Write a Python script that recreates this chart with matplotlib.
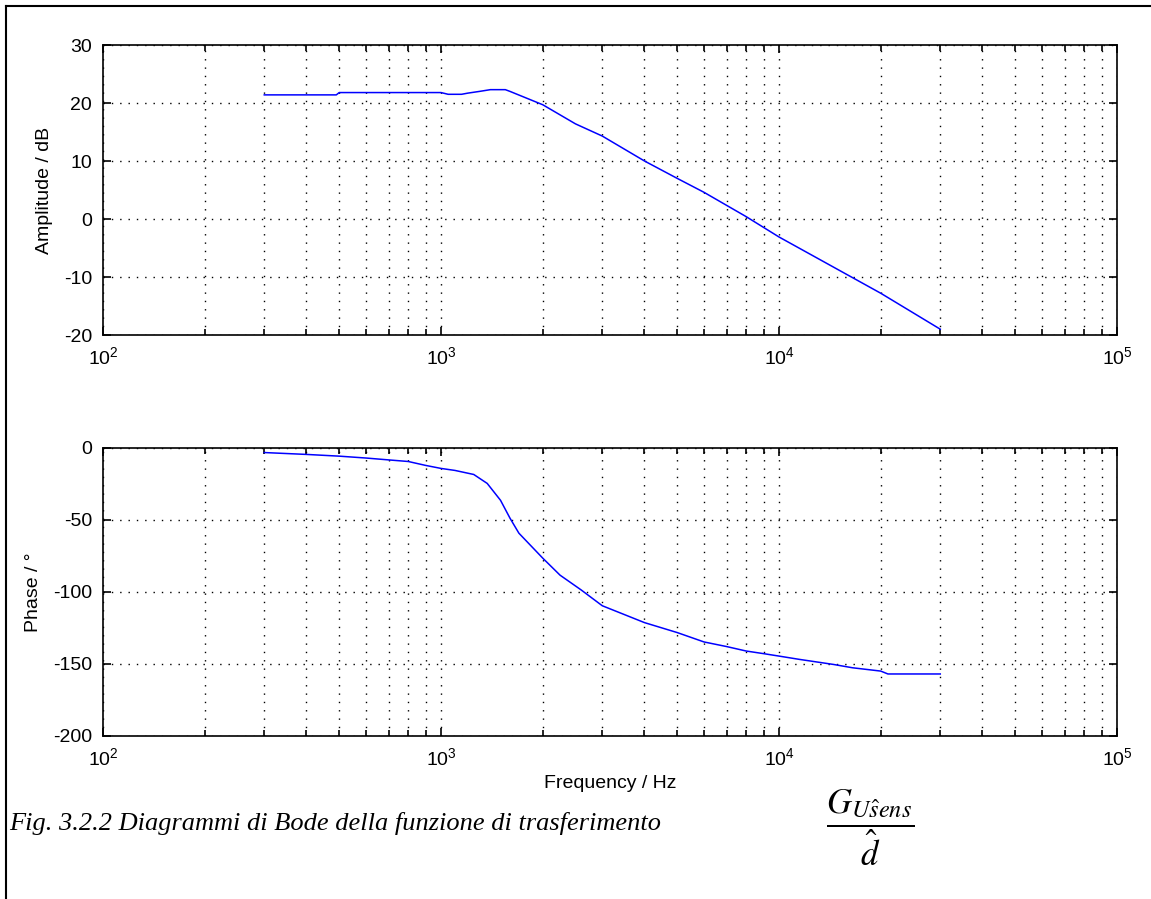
import matplotlib
matplotlib.use('Agg')
import matplotlib.pyplot as plt
from matplotlib.lines import Line2D
from matplotlib.ticker import LogLocator, NullFormatter

plt.rcParams['font.family'] = ['Liberation Sans', 'DejaVu Sans']
plt.rcParams['axes.unicode_minus'] = False
plt.rcParams['mathtext.fontset'] = 'custom'
plt.rcParams['mathtext.rm'] = 'Liberation Sans'

# amplitude data
freq_amp = [300, 400, 490, 500, 1000, 1050, 1150, 1200, 1300, 1400, 1550, 1600,
            2000, 2500, 3000, 4000, 5000, 6000, 8000, 10000, 20000, 30000]
amp_db = [21.4, 21.4, 21.4, 21.8, 21.8, 21.5, 21.5, 21.7, 22.0, 22.3, 22.3, 22.0,
          19.7, 16.4, 14.3, 10.0, 7.0, 4.6, 0.4, -3.1, -12.8, -19.0]

# phase data
freq_ph = [300, 400, 500, 600, 700, 800, 900, 1000, 1100, 1250, 1370, 1500, 1600,
           1700, 2000, 2250, 2600, 3000, 4000, 5000, 6000, 7000, 8000, 9000,
           10000, 11500, 14500, 16500, 20000, 21000, 30000]
phase_deg = [-3.5, -4.8, -6.0, -7.3, -8.6, -9.7, -12.4, -14.5, -15.9, -18.7, -24.9,
             -36.6, -49.0, -59.4, -76.7, -88.5, -98.8, -109.7, -121.4, -128.3,
             -134.8, -138.0, -141.1, -142.9, -144.6, -146.9, -150.4, -152.7,
             -155.0, -157.0, -157.0]

amp_ticks = [30, 20, 10, 0, -10, -20]
phase_ticks = [0, -50, -100, -150, -200]

W, H = 1151, 899
fig = plt.figure(figsize=(W / 100, H / 100), dpi=100)


def setup_axis(ax, ylim, yticks, ylabel):
    ax.set_xscale('log')
    ax.set_xlim(1e2, 1e5)
    ax.set_ylim(*ylim)
    ax.set_yticks(yticks)
    ax.xaxis.set_minor_locator(LogLocator(base=10, subs=range(2, 10)))
    ax.xaxis.set_minor_formatter(NullFormatter())
    ax.tick_params(which='both', direction='in', top=True, right=True,
                   labelsize=14, width=1.2, pad=8)
    ax.tick_params(which='major', length=6)
    ax.tick_params(which='minor', length=4)
    ax.grid(True, which='major', color='black', linestyle=(0, (1, 5)), lw=1)
    ax.grid(True, which='minor', axis='x', color='black', linestyle=(0, (1, 5)), lw=1)
    for s in ax.spines.values():
        s.set_linewidth(1.2)
    ax.set_ylabel(ylabel, fontsize=14, labelpad=8)


ax1 = fig.add_axes([103 / W, (H - 335) / H, 1014 / W, 290 / H])
ax1.plot(freq_amp, amp_db, color='blue', lw=1.1)
setup_axis(ax1, (-20, 30), amp_ticks, 'Amplitude / dB')

ax2 = fig.add_axes([103 / W, (H - 736) / H, 1014 / W, 288.5 / H])
ax2.plot(freq_ph, phase_deg, color='blue', lw=1.1)
setup_axis(ax2, (-200, 0), phase_ticks, 'Phase / °')
ax2.set_xlabel('Frequency / Hz', fontsize=14, labelpad=4)

# page border lines
fig.add_artist(Line2D([6 / W, 1], [1 - 6 / H, 1 - 6 / H], color='black', lw=1.5))
fig.add_artist(Line2D([6 / W, 6 / W], [0, 1 - 6 / H], color='black', lw=1.5))

# caption
fig.text(9 / W, 1 - 830 / H, 'Fig. 3.2.2 Diagrammi di Bode della funzione di trasferimento',
         family='Liberation Serif', style='italic', fontsize=19, va='baseline')
fig.text(870 / W, 1 - 828 / H, r'$\dfrac{G_{U\hat{s}ens}}{\hat{d}}$',
         math_fontfamily='stix', fontsize=25, ha='center', va='center')

fig.savefig('out.png', dpi=100)
